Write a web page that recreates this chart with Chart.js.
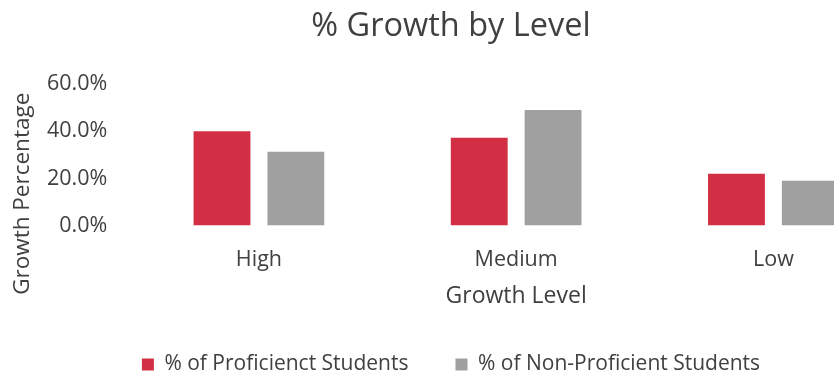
<!DOCTYPE html>
<html>
<head>
<meta charset="utf-8">
<script src="https://cdn.jsdelivr.net/npm/chart.js@4"></script>
<style>
  html, body { margin: 0; padding: 0; background: #fff; overflow: hidden; }
  #wrap { width: 908px; height: 377px; }
</style>
</head>
<body>
<div id="wrap"><canvas id="grafico"></canvas></div>
<script>
const levels = ['High', 'Medium', 'Low'];
const proficient = [0.40, 0.372, 0.22];
const nonProficient = [0.313, 0.49, 0.19];
const yTicks = [0, 0.2, 0.4, 0.6];
const yTitle = 'Growth Percentage';

const font = '"Open Sans", Lato, sans-serif';
const textColor = '#404040';

// y axis title sits a bit lower than the middle of the plot, so it is drawn by hand
const yTitlePlugin = {
  id: 'yTitle',
  afterDraw(chart) {
    const c = chart.ctx;
    const area = chart.chartArea;
    c.save();
    c.translate(23, (area.top + area.bottom) / 2 + 39);
    c.rotate(-Math.PI / 2);
    c.fillStyle = textColor;
    c.font = '22.5px ' + font;
    c.textAlign = 'center';
    c.textBaseline = 'middle';
    c.fillText(yTitle, 0, 0);
    c.restore();
  }
};

const ctx = document.getElementById('grafico').getContext('2d');

const chart = new Chart(ctx, {
  type: 'bar',
  data: {
    labels: levels,
    datasets: [
      {
        label: '% of Proficienct Students',
        data: proficient,
        backgroundColor: '#d22e44'
      },
      {
        label: '% of Non-Proficient Students',
        data: nonProficient,
        backgroundColor: '#a0a0a0'
      }
    ]
  },
  plugins: [yTitlePlugin],
  options: {
    animation: false,
    responsive: true,
    maintainAspectRatio: false,
    categoryPercentage: 0.574,
    barPercentage: 0.77,
    layout: { padding: { left: 0, right: 6, top: 0, bottom: -8 } },
    plugins: {
      title: {
        display: true,
        text: '% Growth by Level',
        color: textColor,
        font: { family: font, size: 32.5, weight: 'normal' },
        padding: { top: 7, bottom: 38 }
      },
      legend: {
        position: 'bottom',
        labels: {
          color: textColor,
          font: { family: font, size: 21 },
          boxWidth: 12,
          boxHeight: 12,
          padding: 47
        }
      },
      tooltip: { enabled: false }
    },
    scales: {
      x: {
        grid: { display: false },
        border: { display: false },
        ticks: { color: textColor, font: { family: font, size: 21.5 }, padding: 13 },
        title: {
          display: true,
          text: 'Growth Level',
          color: textColor,
          font: { family: font, size: 23 },
          padding: { top: -3, bottom: -3 }
        }
      },
      y: {
        min: 0,
        max: 0.6,
        grid: { display: false },
        border: { display: false },
        // room on the left for the hand-drawn title
        afterFit: axis => { axis.width += 32; },
        afterBuildTicks: axis => { axis.ticks = yTicks.map(v => ({ value: v })); },
        ticks: {
          color: textColor,
          font: { family: font, size: 21.5 },
          padding: 15,
          callback: v => (v * 100).toFixed(1) + '%'
        }
      }
    }
  }
});
</script>
</body>
</html>
